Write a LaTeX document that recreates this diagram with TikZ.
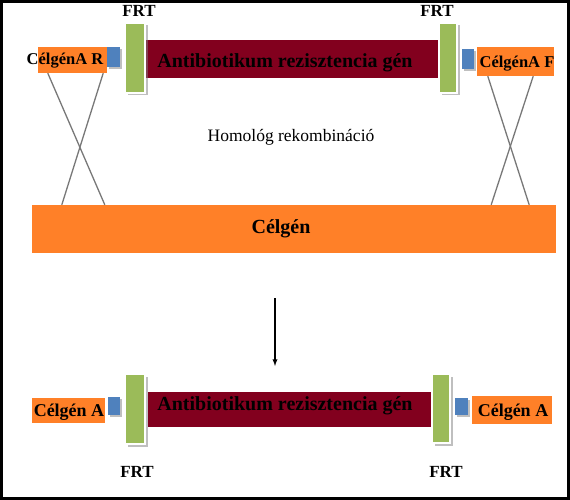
\documentclass[tikz,border=0pt]{standalone}
\usepackage{fontspec}
\setmainfont{Liberation Serif}
\usetikzlibrary{shadows}
\definecolor{genorange}{RGB}{255,128,40}
\definecolor{abred}{RGB}{130,0,30}
\definecolor{frtgreen}{RGB}{155,187,89}
\definecolor{siteblue}{RGB}{79,129,189}
\definecolor{crossgray}{RGB}{120,120,120}
\begin{document}
\begin{tikzpicture}[x=1pt,y=-1pt,
	gene/.style 2 args={fill=genorange, inner sep=0, minimum width=#1, minimum height=#2},
	abbox/.style 2 args={fill=abred, inner sep=0, minimum width=#1, minimum height=#2},
	frtbox/.style 2 args={fill=frtgreen, draw=white, line width=1.5pt, inner sep=0, minimum width=#1, minimum height=#2,
		drop shadow={shadow xshift=2.5pt, shadow yshift=-2.5pt, fill=gray, opacity=0.5}},
	sitebox/.style 2 args={fill=siteblue, inner sep=0, minimum width=#1, minimum height=#2,
		drop shadow={shadow xshift=2pt, shadow yshift=-2pt, fill=gray, opacity=0.5}},
	lbl/.style={inner sep=0, font=\bfseries\fontsize{#1}{#1}\selectfont},
	cross/.style={draw=crossgray, line width=1.3pt}]
	\fill [white] (0,0) rectangle (570,500);
	\draw [line width=3pt] (1.5,1.5) rectangle (568.5,498.5);
	% top row
	\node [gene={69}{26}] (celL) at (72.5,60) {};
	\node [gene={77}{29}] (celR) at (515.5,61.5) {};
	\node [abbox={294}{38}] (abT) at (293,59) {};
	\node [sitebox={13}{20}] (siteL) at (113.5,57) {};
	\node [sitebox={12}{20}] (siteR) at (468,59) {};
	\node [frtbox={20}{70}] (frtL) at (135,58) {};
	\node [frtbox={18}{70}] (frtR) at (448,58) {};
	\node [lbl=16.5] (celLtxt) at (65,61) {CélgénA R};
	\node [lbl=16.5] (celRtxt) at (517,64) {CélgénA F};
	\node [lbl=20] (abTtxt) at (285,63) {Antibiotikum rezisztencia gén};
	\node [lbl=17] (frtLtxt) at (139,11) {FRT};
	\node [lbl=17] (frtRtxt) at (437,11) {FRT};
	\node [inner sep=0, font=\fontsize{17.5}{17.5}\selectfont] (homtxt) at (291,137) {Homológ rekombináció};
	% target gene
	\node [gene={524}{48}] (celgen) at (294,229) {};
	\node [lbl=20] (celgentxt) at (281,229) {Célgén};
	\draw [cross] ([xshift=10pt]celL.south west) -- ([xshift=73pt]celgen.north west);
	\draw [cross] ([xshift=-4pt]celL.south east) -- ([xshift=30pt]celgen.north west);
	\draw [cross] ([xshift=11pt]celR.south west) -- ([xshift=-27pt]celgen.north east);
	\draw [cross] ([xshift=-21pt]celR.south east) -- ([xshift=-65pt]celgen.north east);
	% arrow
	\coordinate (arrtop) at (275,298);
	\coordinate (arrbot) at (275,366);
	\draw [line width=1.3pt, -latex] (arrtop) -- (arrbot);
	% bottom row
	\node [gene={73}{25}] (celBL) at (68.5,410.5) {};
	\node [gene={80}{28}] (celBR) at (512,410) {};
	\node [abbox={285}{35}] (abB) at (290.5,409.5) {};
	\node [sitebox={12}{18}] (siteBL) at (114,406) {};
	\node [sitebox={13}{17}] (siteBR) at (461.5,406.5) {};
	\node [frtbox={20}{70}] (frtBL) at (135,409) {};
	\node [frtbox={18}{69}] (frtBR) at (441,408.5) {};
	\node [lbl=18] (celBLtxt) at (69,412) {Célgén A};
	\node [lbl=18] (celBRtxt) at (513,412) {Célgén A};
	\node [lbl=20] (abBtxt) at (285,406) {Antibiotikum rezisztencia gén};
	\node [lbl=17] (frtBLtxt) at (137,472) {FRT};
	\node [lbl=17] (frtBRtxt) at (446,472) {FRT};
\end{tikzpicture}
\end{document}
